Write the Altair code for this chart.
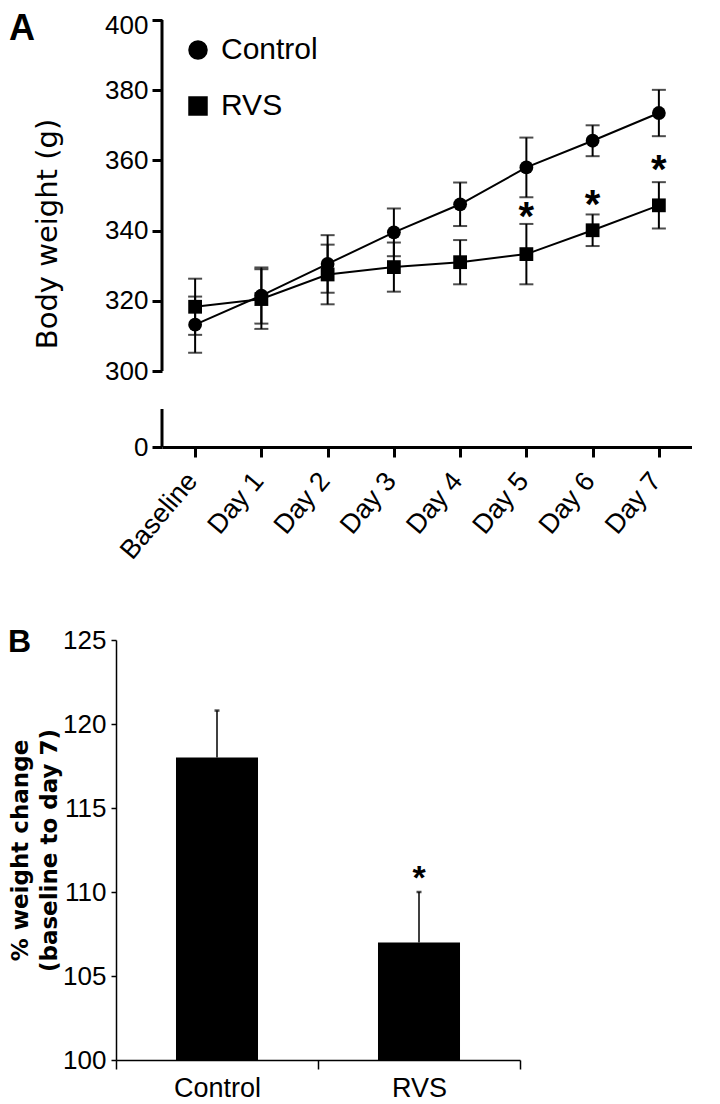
import altair as alt
import pandas as pd

# ---------------- data ----------------
days = ["Baseline", "Day 1", "Day 2", "Day 3", "Day 4", "Day 5", "Day 6", "Day 7"]
control_mean = [313.2, 321.5, 330.5, 339.5, 347.5, 358.0, 365.6, 373.5]
control_sem = [8.0, 8.0, 8.2, 6.8, 6.2, 8.5, 4.4, 6.6]
rvs_mean = [318.3, 320.5, 327.5, 329.6, 331.0, 333.3, 340.1, 347.2]
rvs_sem = [8.0, 8.5, 8.5, 7.0, 6.3, 8.6, 4.5, 6.6]
groups = ["Control", "RVS"]
star_days = ["Day 5", "Day 6", "Day 7"]
star_y = [343.5, 347.0, 357.0]
y_ticks = [0, 300, 320, 340, 360, 380, 400]
y_break = [0, 10, 300, 400]          # piecewise (broken) axis domain

pct_groups = ["Control", "RVS"]
pct_mean = [118.0, 107.0]
pct_err = [2.8, 3.0]
pct_star_groups = ["RVS"]
pct_star_y = [110.8]
pct_ticks = [100, 105, 110, 115, 120, 125]

rows = []
for g, means, sems in (("Control", control_mean, control_sem), ("RVS", rvs_mean, rvs_sem)):
    for d, m, s in zip(days, means, sems):
        rows.append({"day": d, "group": g, "mean": m, "lo": m - s, "hi": m + s})
dfA = pd.DataFrame(rows)
stars = pd.DataFrame({"day": star_days, "y": star_y, "t": ["*"] * len(star_days)})
segs = pd.DataFrame({"y0": [y_break[0], y_break[2]], "y1": [y_break[1], y_break[3]]})

dfB = pd.DataFrame({"group": pct_groups, "mean": pct_mean,
                    "hi": [m + e for m, e in zip(pct_mean, pct_err)]})
starsB = pd.DataFrame({"group": pct_star_groups, "y": pct_star_y, "t": ["*"]})

# ---------------- panel A ----------------
WA, HA = 576, 427
AXF = "Liberation Sans"
xA = alt.X("day:N", sort=days,
           scale=alt.Scale(type="point", domain=days, range=[46, WA], padding=0.5),
           axis=alt.Axis(title=None, labelAngle=-50, labelAlign="right", labelBaseline="middle",
                         labelFontSize=27, labelFont=AXF, labelColor="black", labelPadding=19,
                         labelOffset=-3,
                         domainWidth=3, domainColor="black", tickWidth=3, tickSize=10,
                         tickColor="black"))
yscaleA = alt.Scale(domain=y_break, range=[HA, HA - 38, HA - 76, 0], nice=False, zero=False)
yaxisA = alt.Axis(values=y_ticks, offset=-46, domain=False, tickWidth=3, tickSize=10,
                  tickColor="black", labelFontSize=26, labelFont=AXF, labelColor="black",
                  labelPadding=4,
                  labelOffset=alt.ConditionalAxisNumber(
                      condition={"test": "datum.value == 400", "value": 5}, value=0),
                  titleFont="DejaVu Sans", titleFontSize=29,
                  titleFontWeight="normal", titleColor="black", titlePadding=42, grid=False)
TA = "Body weight (g)"

base = alt.Chart(dfA)
lines = base.mark_line(color="black", strokeWidth=2).encode(
    x=xA, y=alt.Y("mean:Q", scale=yscaleA, axis=yaxisA, title=TA), detail="group:N")
errs = base.mark_rule(color="black", strokeWidth=2).encode(
    x=xA, y=alt.Y("lo:Q", scale=yscaleA, axis=yaxisA, title=TA), y2="hi:Q")
caps_hi = base.mark_tick(color="black", thickness=2, size=14).encode(
    x=xA, y=alt.Y("hi:Q", scale=yscaleA, axis=yaxisA, title=TA))
caps_lo = base.mark_tick(color="black", thickness=2, size=14).encode(
    x=xA, y=alt.Y("lo:Q", scale=yscaleA, axis=yaxisA, title=TA))
pts = base.mark_point(filled=True, color="black", opacity=1, size=190).encode(
    x=xA, y=alt.Y("mean:Q", scale=yscaleA, axis=yaxisA, title=TA),
    shape=alt.Shape("group:N", scale=alt.Scale(domain=groups, range=["circle", "square"]),
                    legend=alt.Legend(title=None, orient="none", legendX=67, legendY=15,
                                      labelFontSize=30, labelFont=AXF, labelColor="black",
                                      symbolSize=380, symbolFillColor="black",
                                      symbolStrokeWidth=0, labelOffset=8, rowPadding=26)))
starA = alt.Chart(stars).mark_text(fontSize=40, fontWeight="bold", color="black",
                                   baseline="middle", font=AXF).encode(
    x=xA, y=alt.Y("y:Q", scale=yscaleA, axis=yaxisA, title=TA), text="t:N")
axisA = alt.Chart(segs).mark_rule(color="black", strokeWidth=3).encode(
    x=alt.value(46), y=alt.Y("y0:Q", scale=yscaleA, axis=yaxisA, title=TA), y2="y1:Q")
labA = alt.Chart(pd.DataFrame({"t": ["A"]})).mark_text(
    fontSize=36, fontWeight="bold", font=AXF, color="black", align="left",
    baseline="top").encode(text="t:N", x=alt.value(-107), y=alt.value(-8))

panelA = alt.layer(axisA, lines, errs, caps_hi, caps_lo, pts, starA, labA).properties(
    width=WA, height=HA)

# ---------------- panel B ----------------
WB, HB = 404, 420
xB = alt.X("group:N", sort=pct_groups,
           scale=alt.Scale(domain=pct_groups, paddingInner=0, paddingOuter=0),
           axis=alt.Axis(title=None, labelAngle=0, tickBand="extent", labelFont=AXF,
                         labelFontSize=27, labelColor="black", labelPadding=6,
                         domainColor="black", domainWidth=1.5, tickColor="black",
                         tickWidth=1.5, tickSize=9))
yscaleB = alt.Scale(domain=[pct_ticks[0], pct_ticks[-1]], nice=False, zero=False)
yaxisB = alt.Axis(values=pct_ticks, grid=False, domainColor="black", domainWidth=1.5,
                  tickColor="black", tickWidth=1.5, tickSize=5, labelFont=AXF,
                  labelFontSize=26, labelColor="black", labelPadding=5,
                  titleFont="DejaVu Sans", titleFontSize=23, titleFontWeight="bold",
                  titleColor="black", titlePadding=1, titleLineHeight=29)
TB = ["% weight change", "(baseline to day 7)"]

baseB = alt.Chart(dfB)
bars = baseB.mark_bar(color="black", width=alt.RelativeBandSize(0.406)).encode(
    x=xB, y=alt.Y("mean:Q", scale=yscaleB, axis=yaxisB, title=TB), y2=alt.datum(pct_ticks[0]))
errB = baseB.mark_rule(color="black", strokeWidth=1.5).encode(
    x=xB, y=alt.Y("mean:Q", scale=yscaleB, axis=yaxisB, title=TB), y2="hi:Q")
capB = baseB.mark_tick(color="black", thickness=2.5, size=5).encode(
    x=xB, y=alt.Y("hi:Q", scale=yscaleB, axis=yaxisB, title=TB))
starB = alt.Chart(starsB).mark_text(fontSize=34, fontWeight="bold", color="black",
                                    baseline="middle", font=AXF).encode(
    x=xB, y=alt.Y("y:Q", scale=yscaleB, axis=yaxisB, title=TB), text="t:N")
labB = alt.Chart(pd.DataFrame({"t": ["B"]})).mark_text(
    fontSize=32, fontWeight="bold", font=AXF, color="black", align="left",
    baseline="alphabetic").encode(text="t:N", x=alt.value(-108), y=alt.value(12))

panelB = alt.layer(bars, errB, capB, starB, labB).properties(width=WB, height=HB)

chart = alt.vconcat(panelA, panelB, spacing=62).resolve_scale(
    x="independent", y="independent", shape="independent").properties(
    padding={"left": 0, "top": 3, "right": 0, "bottom": 0}
).configure_view(stroke=None)

chart.save("out.html", embed_options={"renderer": "svg", "actions": False})
